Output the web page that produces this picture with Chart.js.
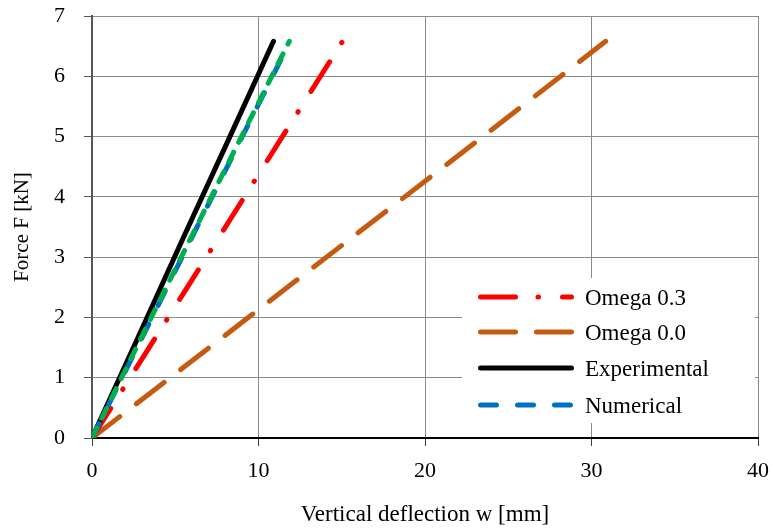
<!DOCTYPE html>
<html><head><meta charset="utf-8">
<script src="https://cdn.jsdelivr.net/npm/chart.js@4/dist/chart.umd.min.js"></script>
<style>html,body{margin:0;padding:0;background:#fff}#wrap{width:773px;height:528px;position:relative}</style>
</head><body><div id="wrap"><canvas id="c" width="773" height="528"></canvas></div>
<script>
// ---- data ----
const xTicks = [0, 10, 20, 30, 40];
const yTicks = [0, 1, 2, 3, 4, 5, 6, 7];
const seriesNames = ['Omega 0.3', 'Omega 0.0', 'Experimental', 'Numerical', 'Numerical (2)'];
const omega03X = [0, 3.8, 7.6, 11.3, 15.05];
const omega03Y = [0, 1.66, 3.32, 4.94, 6.58];
const omega00X = [0, 7.7, 15.4, 23.1, 30.85];
const omega00Y = [0, 1.64, 3.28, 4.92, 6.58];
const experimentalX = [0, 2.75, 5.45, 8.2, 10.9];
const experimentalY = [0, 1.66, 3.3, 4.95, 6.58];
const numericalX = [0, 3.0, 5.95, 8.9, 11.9];
const numericalY = [0, 1.66, 3.3, 4.93, 6.58];
const numerical2X = [0, 2.95, 5.9, 8.85, 11.85];
const numerical2Y = [0, 1.66, 3.3, 4.93, 6.58];

const pts = (xs, ys) => xs.map((x, i) => ({x: x, y: ys[i]}));
const serif = "'Liberation Serif', 'Times New Roman', serif";

const styles = [
  {color: '#ff0000', dash: [35, 22.5, 0.5, 24], order: 4},
  {color: '#c55a11', dash: [35, 21], order: 5},
  {color: '#000000', dash: [], order: 3},
  {color: '#0070c0', dash: [16, 21], order: 2},
  {color: '#00b050', dash: [11, 11], order: 1}
];
const seriesData = [
  pts(omega03X, omega03Y),
  pts(omega00X, omega00Y),
  pts(experimentalX, experimentalY),
  pts(numericalX, numericalY),
  pts(numerical2X, numerical2Y)
];
const legendCount = 4;

const datasets = seriesData.map((d, i) => ({
  label: seriesNames[i],
  data: d,
  borderColor: styles[i].color,
  backgroundColor: styles[i].color,
  borderWidth: 5,
  borderDash: styles[i].dash,
  borderCapStyle: 'round',
  pointRadius: 0,
  fill: false,
  tension: 0,
  order: styles[i].order
}));

const legendPlugin = {
  id: 'insideLegend',
  beforeDatasetsDraw(chart) {
    const ctx = chart.ctx, a = chart.chartArea;
    const bx = a.right - 296, by = a.bottom - 160, bw = 293, bh = 145;
    ctx.save();
    ctx.fillStyle = '#ffffff';
    ctx.fillRect(bx, by, bw, bh);
    const rowsY = [19, 54, 90, 127];
    for (let i = 0; i < legendCount; i++) {
      const y = by + rowsY[i];
      ctx.beginPath();
      ctx.lineWidth = 5;
      ctx.lineCap = 'round';
      ctx.strokeStyle = styles[i].color;
      ctx.setLineDash(styles[i].dash);
      ctx.moveTo(bx + 18.5, y);
      ctx.lineTo(bx + 109.5, y);
      ctx.stroke();
      ctx.setLineDash([]);
      ctx.fillStyle = '#000';
      ctx.font = '23px ' + serif;
      ctx.textBaseline = 'middle';
      ctx.textAlign = 'left';
      ctx.fillText(seriesNames[i], bx + 123, y + 2);
    }
    ctx.restore();
  }
};

new Chart(document.getElementById('c'), {
  type: 'line',
  data: {datasets: datasets},
  plugins: [legendPlugin],
  options: {
    responsive: false,
    devicePixelRatio: 1,
    animation: false,
    layout: {padding: {top: 16, right: 15, left: 0, bottom: 0}},
    plugins: {legend: {display: false}, tooltip: {enabled: false}},
    scales: {
      x: {
        type: 'linear', min: 0, max: 40,
        afterBuildTicks: s => { s.ticks = xTicks.map(v => ({value: v})); },
        afterFit: s => { s.height = 90; s.paddingLeft = 0; s.paddingRight = 0; },
        grid: {color: '#8a8a8a', lineWidth: 1, tickLength: 8, tickColor: '#404040'},
        border: {color: '#000', width: 2},
        ticks: {color: '#000', font: {family: serif, size: 22}, padding: 12, maxRotation: 0},
        title: {display: true, text: 'Vertical deflection w [mm]', color: '#000',
                font: {family: serif, size: 23, lineHeight: 1.1}, padding: {top: 0, bottom: 0}}
      },
      y: {
        type: 'linear', min: 0, max: 7,
        afterBuildTicks: s => { s.ticks = yTicks.map(v => ({value: v})); },
        afterFit: s => { s.width = 92; s.paddingTop = 0; s.paddingBottom = 0; },
        grid: {color: '#8a8a8a', lineWidth: 1, tickLength: 8, tickColor: '#555'},
        border: {color: '#555', width: 2},
        ticks: {color: '#000', font: {family: serif, size: 22}, padding: 19},
        title: {display: true, text: 'Force F [kN]', color: '#000',
                font: {family: serif, size: 21, lineHeight: 1.2}, padding: {top: 10, bottom: 0}}
      }
    }
  }
});
</script>
</body></html>
